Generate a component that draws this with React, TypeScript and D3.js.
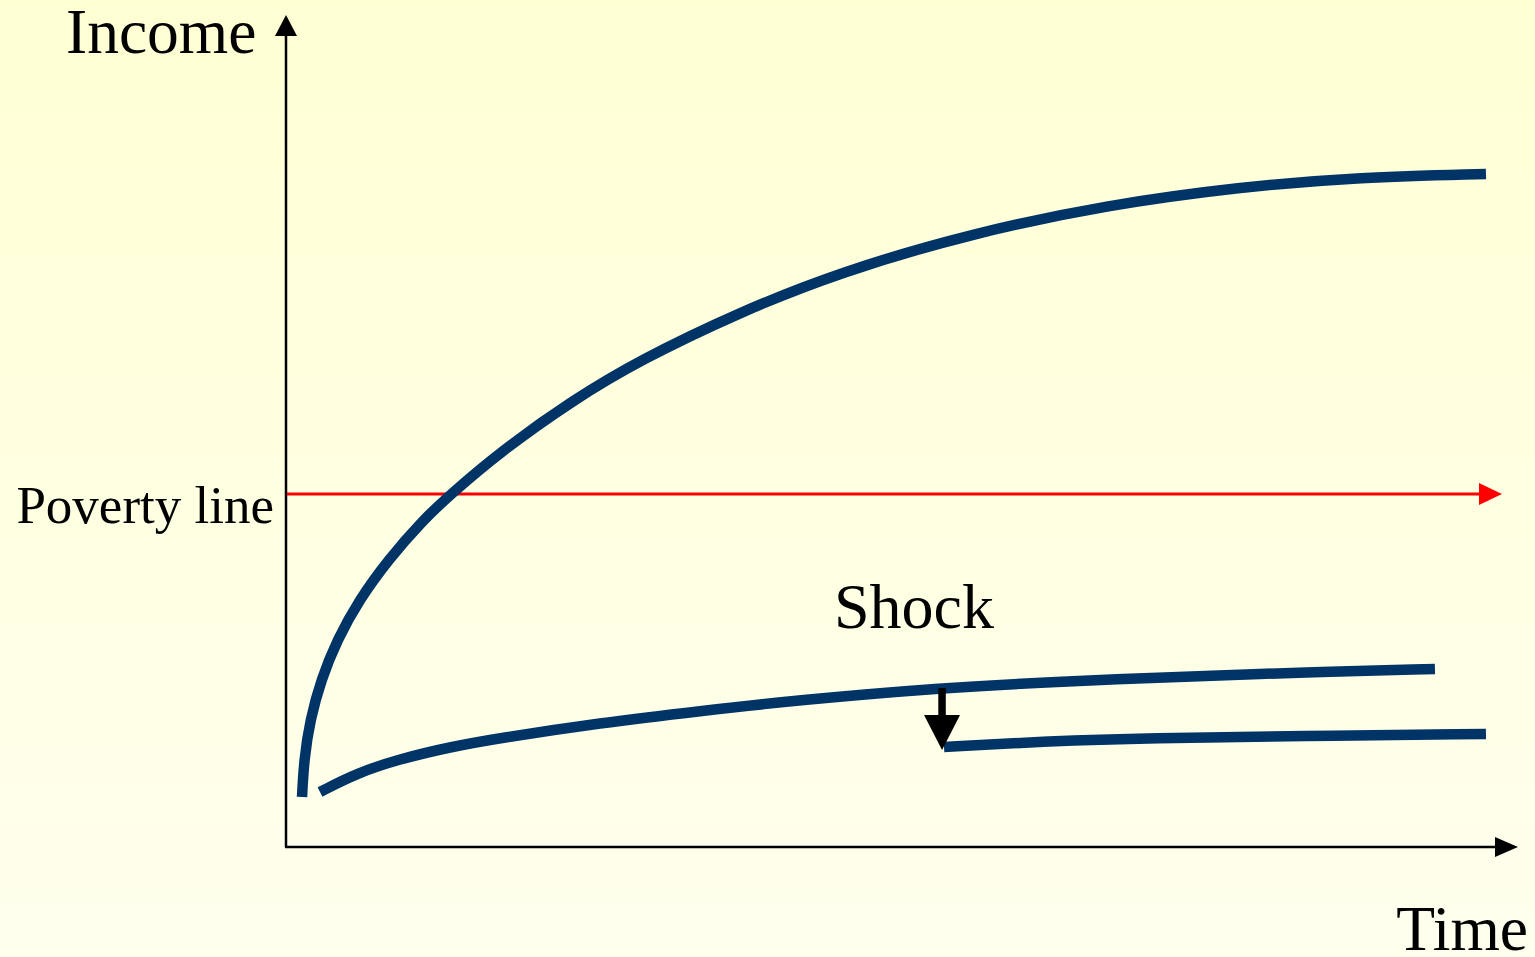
import React from "react";
import * as d3 from "d3";

// Data (time, income) in arbitrary units
const growthPath: [number, number][] = [
  [1.3, 6.06], [1.46, 10.55], [1.95, 15.39], [2.84, 20.24], [4.14, 25.09],
  [5.93, 29.94], [8.28, 34.79], [11.12, 39.64], [13.39, 42.79], [17.37, 47.88],
  [23.3, 54.18], [28.73, 59.03], [36.85, 64.85], [44.97, 69.7], [55.76, 74.42],
  [66.64, 77.82], [77.44, 80.0], [87.18, 81.21], [97.4, 81.58],
];
const trappedPath: [number, number][] = [
  [2.76, 6.67], [5.76, 8.97], [9.25, 10.67], [13.31, 12.12], [17.37, 13.21],
  [25.49, 15.03], [33.6, 16.48], [41.72, 17.82], [53.08, 19.27], [62.01, 20.0],
  [74.19, 20.73], [82.31, 21.15], [93.26, 21.58],
];
const afterShockPath: [number, number][] = [
  [53.41, 12.12], [62.01, 12.85], [70.13, 13.21], [82.31, 13.45], [97.4, 13.7],
];
const povertyLine = 42.79;
const povertyLineEnd = 98.7;
const shockTime = 53.25;
const shockFrom = 19.27;
const shockTo = 11.76;
const xAxisEnd = 100;
const yAxisEnd = 100;

const labels = {
  y: "Income",
  x: "Time",
  poverty: "Poverty line",
  shock: "Shock",
};

const W = 1535;
const H = 957;
const x = d3.scaleLinear().domain([0, 100]).range([286, 1518]);
const y = d3.scaleLinear().domain([0, 100]).range([847, 22]);

const line = d3
  .line<[number, number]>()
  .x((d) => x(d[0]))
  .y((d) => y(d[1]))
  .curve(d3.curveBasis);

const NAVY = "#003366";
const FONT = "'Liberation Serif', 'Times New Roman', serif";

export default function App() {
  const x0 = x(0);
  const y0 = y(0);
  const xTip = x(xAxisEnd);
  const yTip = y(yAxisEnd) - 7;
  const pv = y(povertyLine);
  const pvTip = x(povertyLineEnd);
  const sx = x(shockTime);
  const sTop = y(shockFrom);
  const sTip = y(shockTo);

  return (
    <svg
      width={W}
      height={H}
      style={{ position: "absolute", left: 0, top: 0, display: "block" }}
    >
      <defs>
        <linearGradient id="bg" x1="0" y1="0" x2="0" y2="1">
          <stop offset="0" stopColor="#FFFFD4" />
          <stop offset="1" stopColor="#FFFFEE" />
        </linearGradient>
      </defs>
      <rect x={0} y={0} width={W} height={H} fill="url(#bg)" />

      {/* axes */}
      <line x1={x0} y1={y0} x2={x0} y2={yTip + 20} stroke="#000" strokeWidth={2.5} />
      <polygon
        points={`${x0},${yTip} ${x0 - 11},${yTip + 21} ${x0 + 11},${yTip + 21}`}
        fill="#000"
      />
      <line x1={x0 - 1} y1={y0} x2={xTip - 22} y2={y0} stroke="#000" strokeWidth={2.5} />
      <polygon
        points={`${xTip},${y0} ${xTip - 23},${y0 - 10} ${xTip - 23},${y0 + 10}`}
        fill="#000"
      />

      {/* poverty line */}
      <line x1={x0 + 1} y1={pv} x2={pvTip - 22} y2={pv} stroke="#FF0000" strokeWidth={3} />
      <polygon
        points={`${pvTip},${pv} ${pvTip - 23},${pv - 11} ${pvTip - 23},${pv + 11}`}
        fill="#FF0000"
      />

      {/* income paths */}
      <path d={line(growthPath) ?? ""} fill="none" stroke={NAVY} strokeWidth={10.5} strokeLinecap="butt" />
      <path d={line(trappedPath) ?? ""} fill="none" stroke={NAVY} strokeWidth={10.5} strokeLinecap="butt" />
      <path d={line(afterShockPath) ?? ""} fill="none" stroke={NAVY} strokeWidth={10.5} strokeLinecap="butt" />

      {/* shock arrow */}
      <line x1={sx} y1={sTop} x2={sx} y2={sTip - 32} stroke="#000" strokeWidth={7.5} />
      <polygon
        points={`${sx},${sTip} ${sx - 18},${sTip - 35} ${sx + 18},${sTip - 35}`}
        fill="#000"
      />

      {/* labels */}
      <text x={66} y={53} fontFamily={FONT} fontSize={63.5} fill="#000">
        {labels.y}
      </text>
      <text x={274} y={523} fontFamily={FONT} fontSize={53} fill="#000" textAnchor="end">
        {labels.poverty}
      </text>
      <text x={834} y={628} fontFamily={FONT} fontSize={64} fill="#000">
        {labels.shock}
      </text>
      <text x={1528} y={950} fontFamily={FONT} fontSize={63.5} fill="#000" textAnchor="end">
        {labels.x}
      </text>
    </svg>
  );
}
